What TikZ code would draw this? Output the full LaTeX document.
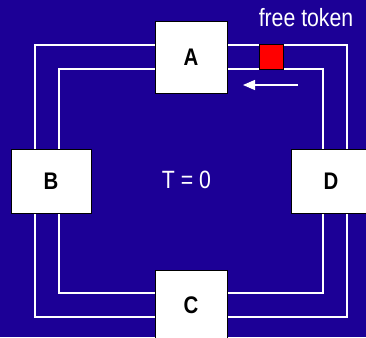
\documentclass[tikz,border=0pt]{standalone}
\usepackage{fontspec}
\setsansfont{Liberation Sans}
\newfontfamily\narrowsf[FakeStretch=0.85]{Liberation Sans}
\usepackage{xcolor}
\usepackage{tikz}
\usetikzlibrary{arrows.meta}

\definecolor{ringblue}{RGB}{28,0,150}
\definecolor{tokenred}{RGB}{255,0,0}

\tikzset{
    station/.style={draw=black, line width=1pt, fill=white, inner sep=0pt,
        font=\narrowsf\bfseries\fontsize{24}{24}\selectfont, text=black},
    ring/.style={draw=white, line width=1.2pt},
    token/.style={draw=black, line width=1pt, fill=tokenred,
        minimum width=24pt, minimum height=24pt, inner sep=0pt},
    caption/.style={text=white, font=\narrowsf\fontsize{25}{25}\selectfont, inner sep=0pt}
}

\begin{document}
\begin{tikzpicture}[x=1pt, y=-1pt]
        % Background
        \useasboundingbox (0,0) rectangle (366,337);
        \clip (0,0) rectangle (366,337);
        \fill[ringblue] (0,0) rectangle (366,337);

        % The two rings
        \coordinate (outerNW) at (35,45);
        \coordinate (outerSE) at (347,317);
        \coordinate (innerNW) at (59,69);
        \coordinate (innerSE) at (323,293);
        \draw[ring] (outerNW) rectangle (outerSE);
        \draw[ring] (innerNW) rectangle (innerSE);

        % Add the stations
        \node[station, minimum width=72pt, minimum height=71pt] (A) at (191,57.5) {A};
        \node[station, minimum width=80pt, minimum height=64pt] (B) at (51,181) {B};
        \node[station, minimum width=72pt, minimum height=71pt] (C) at (191,305.5) {C};
        \node[station, minimum width=80pt, minimum height=64pt] (D) at (331,181) {D};

        % The token and its direction
        \node[token] (tok) at (271,57) {};
        \coordinate (arrowStart) at (298,85);
        \coordinate (arrowEnd) at (243,85);
        \draw[white, line width=1.2pt, -{Triangle[length=12pt, width=10pt]}] (arrowStart) -- (arrowEnd);

        % Labels
        \node[caption, anchor=base] (freeLabel) at (306,27) {free token};
        \node[caption, anchor=base] (clock) at (186.5,188) {T = 0};
    \end{tikzpicture}
\end{document}
